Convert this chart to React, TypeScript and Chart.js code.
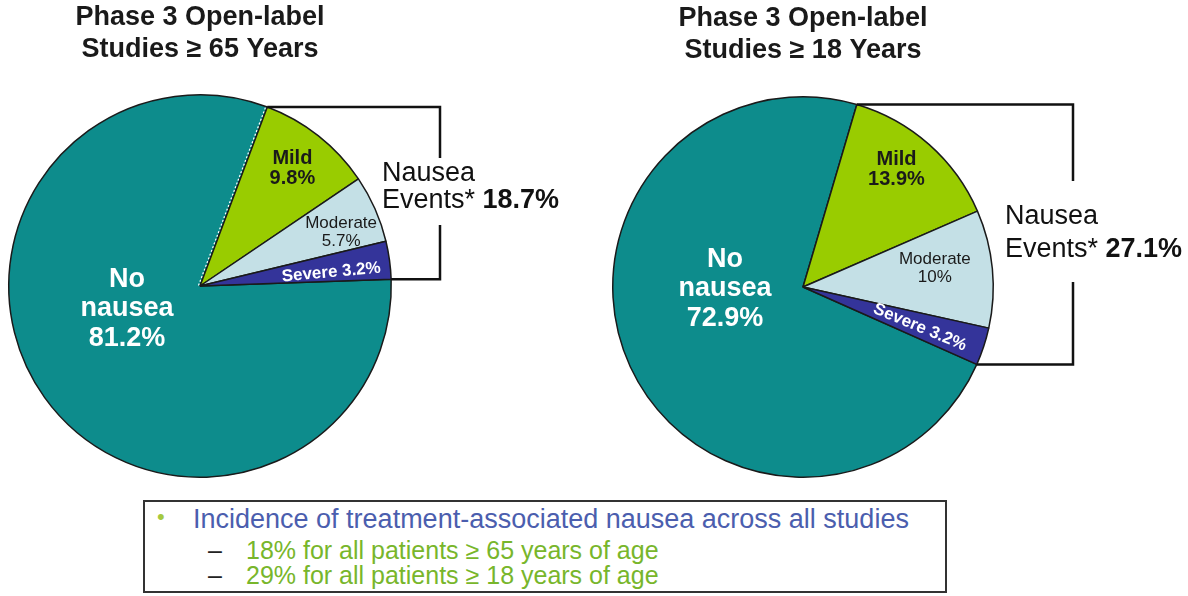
import React, { useEffect, useRef } from "react";
import { Chart, registerables } from "chart.js";

Chart.register(...registerables);

// ---------------- data ----------------
const CATEGORIES = ["No nausea", "Mild", "Moderate", "Severe"];
const OLDER_VALUES = [81.2, 9.8, 5.7, 3.2];
const ADULT_VALUES = [72.9, 13.9, 10, 3.2];
const OLDER_TITLE = ["Phase 3 Open-label", "Studies ≥ 65 Years"];
const ADULT_TITLE = ["Phase 3 Open-label", "Studies ≥ 18 Years"];
const EVENTS_LABEL = ["Nausea", "Events*"];
const NOTE_HEADLINE = "Incidence of treatment-associated nausea across all studies";
const NOTE_ITEMS = [
  "18% for all patients ≥ 65 years of age",
  "29% for all patients ≥ 18 years of age",
];

// ---------------- styles ----------------
const FAMILY = "Arial, 'Liberation Sans', sans-serif";
const SLICE_COLORS = ["#0D8C8C", "#99CC00", "#C4E0E6", "#34349A"];
const LABEL_STYLES = [
  { font: `bold 27px ${FAMILY}`, color: "#FFFFFF", lh: 29.5, mode: "words" },
  { font: `bold 20px ${FAMILY}`, color: "#1A1A1A", lh: 20, mode: "stack" },
  { font: `17px ${FAMILY}`, color: "#1A1A1A", lh: 18, mode: "stack" },
  { font: `bold 17px ${FAMILY}`, color: "#FFFFFF", lh: 18, mode: "inline" },
];

const OLDER_LAYOUT = {
  left: 0,
  rotation: 88,
  dottedEdge: true,
  padding: { left: 8, right: 202, top: 0, bottom: 12 },
  titlePad: { top: 2, bottom: 28 },
  places: [
    { t: 0.563, f: 0.4 },
    { t: 0.5, f: 0.78 },
    { t: 0.64, f: 0.79 },
    { t: 0.66, f: 0.69, rot: -5 },
  ],
  bracket: { x: 440, gapTop: 158, gapBottom: 225, textX: 382, y1: 174, y2: 200.5 },
};

const ADULT_LAYOUT = {
  left: 594,
  rotation: 114,
  dottedEdge: false,
  padding: { left: 18, right: 194, top: 0, bottom: 12 },
  titlePad: { top: 3, bottom: 29 },
  places: [
    { t: 0.589, f: 0.41 },
    { t: 0.44, f: 0.79 },
    { t: 0.43, f: 0.7 },
    { t: 0.57, f: 0.65, rot: 22.6 },
  ],
  bracket: { x: 479, gapTop: 181, gapBottom: 282, textX: 411, y1: 217, y2: 250 },
};

const piePlugin = {
  id: "pieAnnotations",
  afterDatasetsDraw(chart: any, _args: any, opts: any) {
    const { ctx } = chart;
    const meta = chart.getDatasetMeta(0);
    const values = chart.data.datasets[0].data as number[];
    const labels = chart.data.labels as string[];
    const arcs = meta.data.map((a: any) =>
      a.getProps(["x", "y", "startAngle", "endAngle", "outerRadius"], true)
    );

    const first = arcs[1];
    const last = arcs[arcs.length - 1];
    const p1 = {
      x: first.x + Math.cos(first.startAngle) * first.outerRadius,
      y: first.y + Math.sin(first.startAngle) * first.outerRadius,
    };
    const p2 = {
      x: last.x + Math.cos(last.endAngle) * last.outerRadius,
      y: last.y + Math.sin(last.endAngle) * last.outerRadius,
    };

    // white dotted seam between "No nausea" and "Mild"
    if (opts.dottedEdge) {
      ctx.save();
      ctx.strokeStyle = "#FFFFFF";
      ctx.lineWidth = 1.2;
      ctx.setLineDash([2, 2]);
      const off = 1.6;
      const nx = -Math.sin(first.startAngle) * off;
      const ny = Math.cos(first.startAngle) * off;
      ctx.beginPath();
      ctx.moveTo(first.x - nx, first.y - ny);
      ctx.lineTo(p1.x - nx, p1.y - ny);
      ctx.stroke();
      ctx.restore();
    }

    // slice labels
    arcs.forEach((a: any, i: number) => {
      const place = opts.places[i];
      const st = LABEL_STYLES[i];
      const ang = a.startAngle + place.t * (a.endAngle - a.startAngle);
      const r = place.f * a.outerRadius;
      const cx = a.x + Math.cos(ang) * r;
      const cy = a.y + Math.sin(ang) * r;
      const v = `${values[i]}%`;
      let lines: string[];
      if (st.mode === "words") lines = [...labels[i].split(" "), v];
      else if (st.mode === "stack") lines = [labels[i], v];
      else lines = [`${labels[i]} ${v}`];
      ctx.save();
      ctx.translate(cx, cy);
      if (place.rot) ctx.rotate((place.rot * Math.PI) / 180);
      ctx.font = st.font;
      ctx.fillStyle = st.color;
      ctx.textAlign = "center";
      ctx.textBaseline = "middle";
      const h0 = (-(lines.length - 1) * st.lh) / 2;
      lines.forEach((ln, k) => ctx.fillText(ln, 0, h0 + k * st.lh));
      ctx.restore();
    });

    // bracket around the nausea slices
    const b = opts.bracket;
    ctx.save();
    ctx.strokeStyle = "#111111";
    ctx.lineWidth = 2.5;
    ctx.beginPath();
    ctx.moveTo(p1.x, p1.y);
    ctx.lineTo(b.x, p1.y);
    ctx.lineTo(b.x, b.gapTop);
    ctx.moveTo(b.x, b.gapBottom);
    ctx.lineTo(b.x, p2.y);
    ctx.lineTo(p2.x, p2.y);
    ctx.stroke();

    ctx.fillStyle = "#111111";
    ctx.textAlign = "left";
    ctx.textBaseline = "middle";
    ctx.font = `27px ${FAMILY}`;
    ctx.fillText(EVENTS_LABEL[0], b.textX, b.y1);
    const prefix = EVENTS_LABEL[1] + " ";
    ctx.fillText(prefix, b.textX, b.y2);
    const w = ctx.measureText(prefix).width;
    const total = values.slice(1).reduce((s, x) => s + x, 0);
    ctx.font = `bold 27px ${FAMILY}`;
    ctx.fillText(`${total.toFixed(1)}%`, b.textX + w, b.y2);
    ctx.restore();
  },
};

function PieCanvas({ values, title, layout }: { values: number[]; title: string[]; layout: any }) {
  const ref = useRef<HTMLCanvasElement>(null);
  useEffect(() => {
    const chart = new Chart(ref.current as HTMLCanvasElement, {
      type: "pie",
      data: {
        labels: CATEGORIES,
        datasets: [
          {
            data: values,
            backgroundColor: SLICE_COLORS,
            borderColor: "#1A1A1A",
            borderWidth: 1.5,
          },
        ],
      },
      options: {
        responsive: false,
        animation: false,
        devicePixelRatio: 1,
        rotation: layout.rotation,
        events: [],
        layout: { padding: layout.padding },
        plugins: {
          legend: { display: false },
          tooltip: { enabled: false },
          title: {
            display: true,
            text: title,
            fullSize: false,
            color: "#1A1A1A",
            font: { family: FAMILY, size: 27, weight: "bold", lineHeight: 32 / 27 },
            padding: layout.titlePad,
          },
          pieAnnotations: {
            places: layout.places,
            bracket: layout.bracket,
            dottedEdge: layout.dottedEdge,
          },
        } as any,
      },
      plugins: [piePlugin as any],
    });
    return () => chart.destroy();
  }, []);
  return (
    <canvas
      ref={ref}
      width={594}
      height={490}
      style={{ position: "absolute", left: layout.left, top: 0, width: 594, height: 490 }}
    />
  );
}

export default function App() {
  const lineStyle = (left: number, top: number, size: number, color: string): React.CSSProperties => ({
    position: "absolute",
    left,
    top,
    fontFamily: FAMILY,
    fontSize: size,
    lineHeight: `${size}px`,
    color,
    whiteSpace: "nowrap",
  });
  return (
    <div
      style={{
        position: "fixed",
        left: 0,
        top: 0,
        width: 1188,
        height: 596,
        background: "#FFFFFF",
        overflow: "hidden",
      }}
    >
      <PieCanvas values={OLDER_VALUES} title={OLDER_TITLE} layout={OLDER_LAYOUT} />
      <PieCanvas values={ADULT_VALUES} title={ADULT_TITLE} layout={ADULT_LAYOUT} />
      <div
        style={{
          position: "absolute",
          left: 143,
          top: 500,
          width: 804,
          height: 93,
          border: "2px solid #333333",
          boxSizing: "border-box",
        }}
      />
      <div style={lineStyle(157, 506, 22, "#A5C940")}>•</div>
      <div style={lineStyle(193, 505.8, 27, "#4B5EAE")}>{NOTE_HEADLINE}</div>
      {NOTE_ITEMS.map((item, i) => (
        <React.Fragment key={i}>
          <div style={lineStyle(208, 537.8 + i * 25.5, 25, "#222222")}>–</div>
          <div style={lineStyle(246, 537.8 + i * 25.5, 25, "#78B62B")}>{item}</div>
        </React.Fragment>
      ))}
    </div>
  );
}
